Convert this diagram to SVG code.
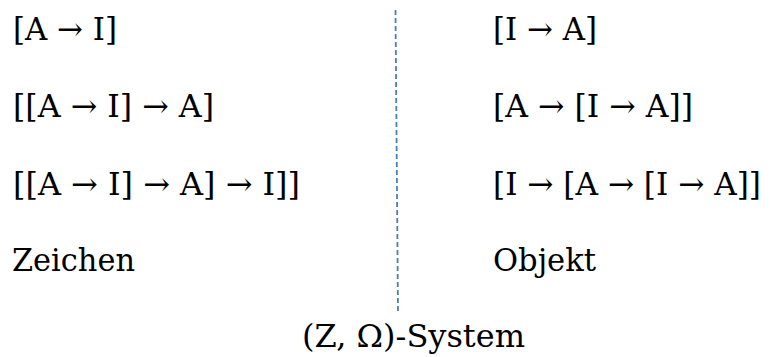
<svg xmlns="http://www.w3.org/2000/svg" width="770" height="357" viewBox="0 0 770 357">
<style>
text{font-family:"DejaVu Serif","Liberation Serif",serif;font-size:32px;fill:#000}
.sep{stroke:#4a7ebb;stroke-width:1.8;stroke-dasharray:5 3;fill:none}
</style>
<rect width="770" height="357" fill="#fff"/>
<g id="connectors">
<line class="sep" x1="395.5" y1="10" x2="398" y2="313"/>
</g>
<g id="left">
<text x="13" y="40" textLength="104" lengthAdjust="spacingAndGlyphs">[A → I]</text>
<text x="13" y="117" textLength="201" lengthAdjust="spacingAndGlyphs">[[A → I] → A]</text>
<text x="13" y="195" textLength="287" lengthAdjust="spacingAndGlyphs">[[A → I] → A] → I]]</text>
<text x="12" y="271" textLength="123" lengthAdjust="spacingAndGlyphs">Zeichen</text>
</g>
<g id="right">
<text x="493" y="40" textLength="104" lengthAdjust="spacingAndGlyphs">[I → A]</text>
<text x="493" y="117" textLength="200" lengthAdjust="spacingAndGlyphs">[A → [I → A]]</text>
<text x="493" y="195" textLength="268" lengthAdjust="spacingAndGlyphs">[I → [A → [I → A]]</text>
<text x="493" y="271" textLength="103" lengthAdjust="spacingAndGlyphs">Objekt</text>
</g>
<g id="system">
<text x="302" y="347" textLength="223" lengthAdjust="spacingAndGlyphs">(Z, Ω)-System</text>
</g>
</svg>
